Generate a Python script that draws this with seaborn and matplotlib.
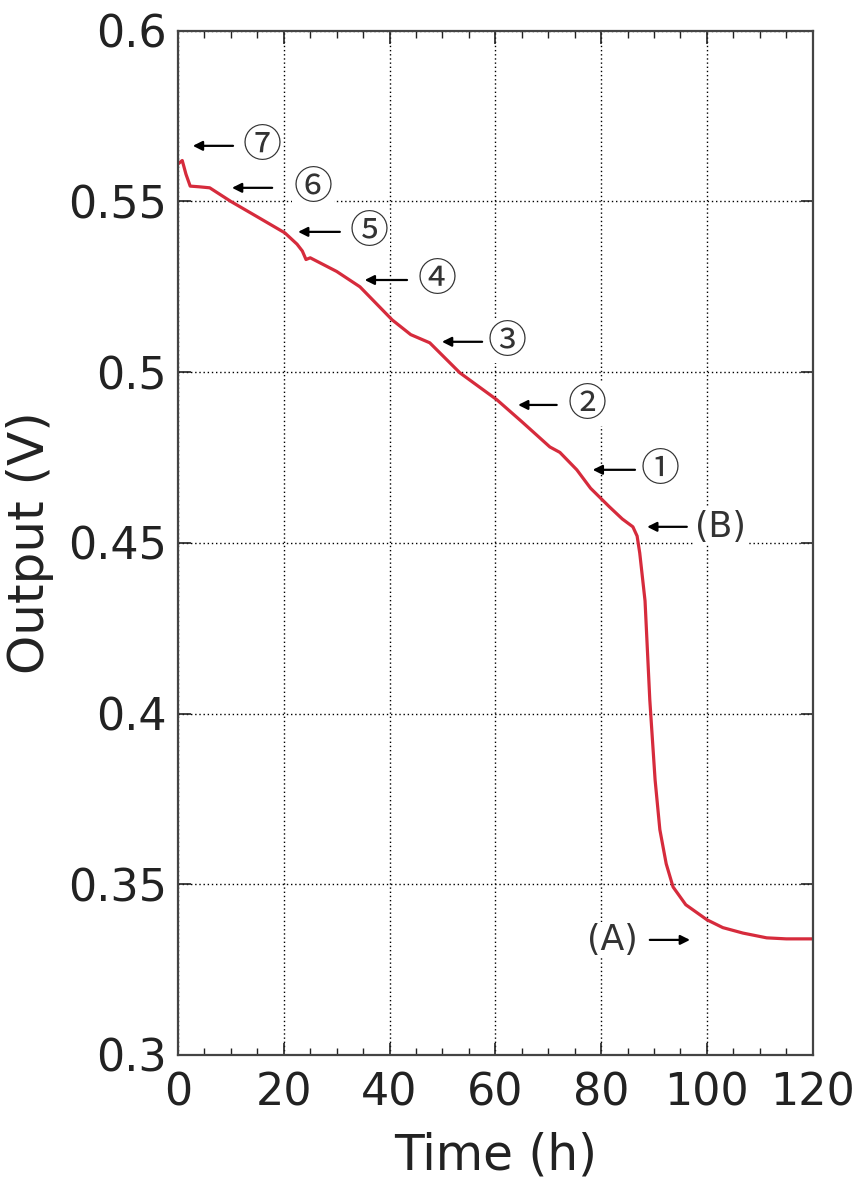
import numpy as np
import pandas as pd
import seaborn as sns
import matplotlib.pyplot as plt
from matplotlib.ticker import MultipleLocator

# --- data ---
time_h = [0, 0.8, 1.5, 2.3, 4, 6, 10, 15, 20.2, 22.5, 23.5, 24.2, 25, 30,
          34.4, 40.5, 44, 47.6, 53.3, 60.3, 65, 70.3, 72.2, 75.4, 78,
          81.6, 84, 86, 86.8, 87.3, 88.3, 89.2, 90.2, 91.1, 92.3, 93.6,
          96, 100, 103, 106.8, 111.3, 115, 120]
output_v = [0.561, 0.562, 0.558, 0.5545, 0.5543, 0.554, 0.550, 0.5455, 0.5408,
            0.5375, 0.5355, 0.533, 0.5335, 0.5295, 0.525, 0.5153, 0.511,
            0.5086, 0.4998, 0.4919, 0.4855, 0.4781, 0.4765, 0.4714, 0.466,
            0.4605, 0.457, 0.4547, 0.452, 0.447, 0.433, 0.404, 0.3806,
            0.366, 0.356, 0.3492, 0.344, 0.3396, 0.3373, 0.3357, 0.3343,
            0.3340, 0.3340]

# annotation labels: (label, arrow head x, arrow tail x, y, text x)
labels = ['⑦', '⑥', '⑤', '④', '③', '②', '①', '(B)', '(A)']
head_x = [2.8, 10.2, 22.7, 35.3, 49.9, 64.3, 78.4, 88.7, 96.8]
tail_x = [10.4, 17.8, 30.6, 43.3, 57.5, 71.6, 86.4, 96.2, 89.2]
label_y = [0.5663, 0.554, 0.5411, 0.527, 0.5089, 0.4904, 0.4714, 0.4547, 0.3337]
text_x = [15.9, 25.5, 36.1, 49.0, 62.2, 77.3, 91.1, 102.5, 82.2]

df = pd.DataFrame({'Time (h)': time_h, 'Output (V)': output_v})

sns.set_style('ticks')
plt.rcParams['font.family'] = ['DejaVu Sans']

fig = plt.figure(figsize=(8.6, 11.84), dpi=100)
ax = fig.add_axes([0.207, 0.109, 0.738, 0.865])

sns.lineplot(data=df, x='Time (h)', y='Output (V)', ax=ax,
             color='#d62b3c', linewidth=2.3)

ax.set_xlim(0, 120)
ax.set_ylim(0.3, 0.6)
ax.xaxis.set_major_locator(MultipleLocator(20))
ax.xaxis.set_minor_locator(MultipleLocator(5))
ax.set_yticks(np.arange(0.3, 0.601, 0.05))
ax.set_yticklabels(['0.3', '0.35', '0.4', '0.45', '0.5', '0.55', '0.6'])

ax.tick_params(which='both', direction='in', top=True, right=True,
               labelsize=32, colors='#222222')
ax.tick_params(which='major', length=9, width=1.2)
ax.tick_params(which='minor', length=5, width=1.0)
ax.tick_params(axis='x', pad=12)
ax.tick_params(axis='y', pad=8)

ax.grid(True, which='major', color='black', linestyle=(0, (1, 2)), linewidth=1.0)
for s in ax.spines.values():
    s.set_color('#444444')
    s.set_linewidth(1.6)

ax.set_xlabel('Time (h)', fontsize=35, color='#222222', labelpad=12)
ax.set_ylabel('Output (V)', fontsize=36, color='#222222', labelpad=10)

for lab, hx, tx, y, lx in zip(labels, head_x, tail_x, label_y, text_x):
    ax.annotate('', xy=(hx, y), xytext=(tx, y),
                arrowprops=dict(arrowstyle='-|>', color='black', lw=1.6,
                                mutation_scale=14, shrinkA=0, shrinkB=0))
    if lab.startswith('('):
        fam, size = ['DejaVu Sans'], 25
    else:
        fam, size = ['Noto Sans CJK JP', 'DejaVu Sans'], 28
    ax.text(lx, y, lab, ha='center', va='center', fontsize=size,
            color='#333333', family=fam,
            bbox=dict(facecolor='white', edgecolor='none', pad=1))

fig.savefig('out.png', dpi=100)
